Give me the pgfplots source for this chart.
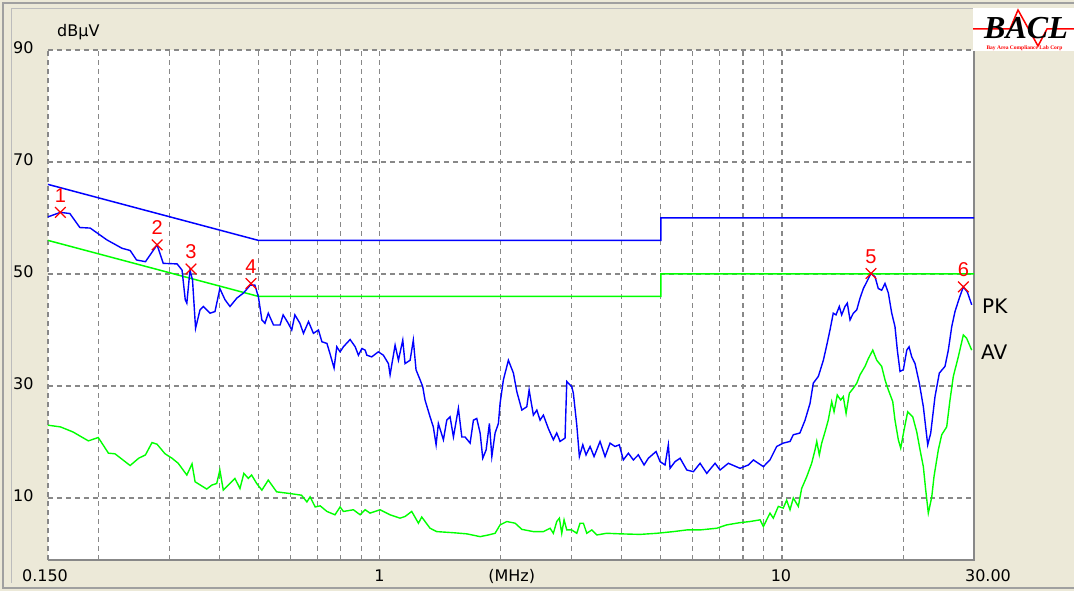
\documentclass[border=0pt]{standalone}
\usepackage{fontspec}
\setmainfont{DejaVu Sans}
\newfontfamily\arialfont{Liberation Sans}
\newfontfamily\timesfont{Liberation Serif}
\usepackage{pgfplots}
\pgfplotsset{compat=1.18}

\definecolor{bgbeige}{HTML}{ECE9D8}
\definecolor{gridgray}{HTML}{888888}
\definecolor{framegray}{HTML}{A0A0A0}
\definecolor{pkblue}{HTML}{0000FF}
\definecolor{avgreen}{HTML}{00FF00}
\definecolor{markred}{HTML}{FF0000}

\begin{document}
\begin{tikzpicture}
% panel background (1 pt = 1 px, axis origin at pixel 48,560)
\fill[bgbeige] (-48pt,-31pt) rectangle (1026pt,560pt);
\draw[framegray, line width=1.5pt] (1026pt,-28pt) -- (-45pt,-28pt) -- (-45pt,557pt) -- (1026pt,557pt);
\draw[framegray!70, line width=1pt] (-36.5pt,-23pt) -- (-36.5pt,551.5pt) -- (925pt,551.5pt);

\begin{axis}[
    at={(0pt,0pt)}, anchor=south west,
    scale only axis, width=926pt, height=510pt,
    xmode=log, xmin=0.15, xmax=30, ymin=-1.07, ymax=90,
    xtick={1,10}, xticklabels={},
    minor xtick={0.2,0.3,0.4,0.5,0.6,0.7,0.8,0.9,2,3,4,5,6,7,8,9,20},
    ytick={10,30,50,70,90}, yticklabels={10,30,50,70,90},
    major tick length=0pt, minor tick length=0pt,
    xmajorgrids, xminorgrids, ymajorgrids,
    grid style={gridgray, line width=1.2pt, dash pattern=on 5pt off 4pt},
    minor grid style={gridgray, line width=1.2pt, dash pattern=on 5pt off 4pt},
    axis line style={draw=none},
    axis background/.style={fill=white},
    yticklabel style={font=\fontsize{16}{19}\selectfont, anchor=west, xshift=-35pt, yshift=2.5pt, inner sep=0pt},
    clip=false,
]
% left edge (dashed like the grid), bottom and right edge solid
\draw[gridgray, line width=1.2pt, dash pattern=on 5pt off 4pt] (axis cs:0.15,-1.07) -- (axis cs:0.15,90);
\draw[gridgray, line width=2.5pt] (axis cs:0.15,-1.07) -- (axis cs:30,-1.07) -- (axis cs:30,90);

% limit lines
\addplot[pkblue, line width=1.5pt] coordinates {(0.15,66) (0.5,56) (5,56) (5,60) (30,60)};
\addplot[avgreen, line width=1.5pt] coordinates {(0.15,56) (0.5,46) (5,46) (5,50) (30,50)};

% average trace
\addplot[avgreen, line width=1.4pt] coordinates {
(0.150,23.0)(0.161,22.7)(0.173,21.8)(0.189,20.2)(0.200,20.8)(0.212,18.0)(0.220,17.9)(0.240,15.8)
(0.252,17.1)(0.262,17.7)(0.272,19.9)(0.280,19.6)(0.293,17.9)(0.305,17.1)(0.316,16.2)(0.332,14.1)
(0.342,16.1)(0.348,12.9)(0.372,11.6)(0.383,12.3)(0.394,12.6)(0.401,15.0)(0.409,11.4)(0.437,13.5)
(0.450,11.7)(0.460,14.4)(0.472,13.5)(0.481,14.1)(0.495,12.6)(0.510,11.4)(0.529,13.2)(0.555,11.1)
(0.599,10.8)(0.640,10.5)(0.660,9.3)(0.672,10.2)(0.692,8.4)(0.712,8.6)(0.740,7.6)(0.775,7.0)
(0.798,8.4)(0.813,7.6)(0.861,7.9)(0.895,7.0)(0.921,7.9)(0.947,7.3)(1.003,7.9)(1.062,7.0)
(1.124,6.4)(1.157,6.7)(1.202,7.6)(1.249,5.5)(1.273,6.6)(1.335,4.6)(1.387,4.0)(1.526,3.8)
(1.647,3.6)(1.778,3.1)(1.864,3.4)(1.937,3.7)(1.993,5.2)(2.071,5.8)(2.172,5.5)(2.257,4.4)
(2.411,4.0)(2.553,4.0)(2.653,4.6)(2.703,3.7)(2.756,5.8)(2.798,6.4)(2.836,3.7)(2.874,6.1)
(2.919,4.3)(3.003,4.3)(3.091,3.7)(3.149,5.5)(3.210,5.5)(3.273,3.7)(3.368,4.3)(3.465,3.4)
(3.669,3.7)(3.959,3.6)(4.439,3.5)(4.884,3.7)(5.373,4.0)(5.801,4.3)(6.259,4.3)(6.885,4.6)
(7.290,5.2)(7.868,5.6)(8.332,5.8)(8.822,6.1)(8.990,4.9)(9.246,6.7)(9.336,7.3)(9.514,6.4)
(9.791,8.5)(10.07,8.2)(10.27,9.6)(10.47,7.9)(10.67,10.0)(10.98,8.5)(11.19,11.7)(11.52,13.8)
(11.85,16.2)(12.08,18.6)(12.20,20.1)(12.38,17.7)(12.55,19.8)(12.79,21.8)(13.03,23.9)(13.29,27.2)
(13.47,25.4)(13.72,28.4)(13.99,27.5)(14.20,28.1)(14.43,25.1)(14.70,28.7)(15.04,29.6)(15.34,30.5)
(15.63,32.0)(16.08,33.5)(16.39,34.9)(16.81,36.4)(17.20,34.6)(17.69,33.5)(18.03,31.1)(18.38,29.3)
(18.85,27.2)(19.09,23.9)(19.46,20.4)(19.73,18.9)(20.10,22.1)(20.53,25.4)(21.13,24.5)(21.62,21.8)
(22.03,18.6)(22.45,15.6)(22.76,11.4)(23.10,7.3)(23.56,10.2)(23.86,13.8)(24.46,18.6)(24.94,21.3)
(25.66,22.7)(26.15,27.5)(26.65,31.7)(27.42,35.2)(28.22,39.1)(28.77,38.5)(29.61,36.4)
};

% peak trace
\addplot[pkblue, line width=1.4pt] coordinates {
(0.150,60.2)(0.161,61.0)(0.170,60.8)(0.180,58.3)(0.191,58.2)(0.210,56.1)(0.229,54.6)(0.240,54.2)
(0.249,52.5)(0.262,52.2)(0.280,55.2)(0.290,51.9)(0.314,51.8)(0.323,50.7)(0.329,45.4)(0.332,44.8)
(0.338,50.7)(0.343,48.9)(0.349,40.3)(0.358,43.6)(0.365,44.2)(0.379,43.0)(0.390,43.3)(0.401,47.4)
(0.413,45.4)(0.425,44.2)(0.442,45.7)(0.459,46.6)(0.477,48.0)(0.490,48.0)(0.500,45.9)(0.510,41.8)
(0.519,41.2)(0.529,43.0)(0.545,40.9)(0.566,40.9)(0.576,42.7)(0.593,41.2)(0.605,40.0)(0.616,42.7)
(0.634,41.2)(0.647,39.4)(0.666,41.5)(0.685,39.4)(0.705,40.0)(0.719,37.9)(0.740,37.6)(0.753,35.8)
(0.771,33.2)(0.783,37.0)(0.798,36.1)(0.813,37.0)(0.845,38.3)(0.870,37.0)(0.886,35.5)(0.904,36.7)
(0.921,36.4)(0.930,35.5)(0.956,35.2)(0.993,36.1)(1.022,35.5)(1.052,34.0)(1.062,32.0)(1.093,37.3)
(1.114,34.6)(1.142,38.2)(1.157,34.0)(1.191,34.6)(1.213,38.2)(1.232,32.9)(1.261,31.1)(1.280,29.9)
(1.297,27.5)(1.335,24.5)(1.360,22.7)(1.382,19.5)(1.400,23.3)(1.441,20.4)(1.469,23.9)(1.497,24.5)
(1.526,20.9)(1.570,26.0)(1.601,20.9)(1.631,20.9)(1.679,19.8)(1.711,23.9)(1.744,24.2)(1.778,21.6)
(1.805,17.1)(1.840,18.6)(1.875,23.3)(1.901,17.4)(1.937,21.6)(1.974,23.3)(1.993,26.9)(2.031,31.1)
(2.090,34.6)(2.151,32.3)(2.193,29.0)(2.257,25.7)(2.322,26.3)(2.353,29.3)(2.411,24.8)(2.459,25.7)
(2.505,23.9)(2.553,24.8)(2.627,22.4)(2.703,20.4)(2.756,21.6)(2.809,20.1)(2.890,20.7)(2.919,30.8)
(3.003,29.9)(3.031,28.7)(3.091,23.0)(3.137,17.4)(3.199,19.5)(3.259,17.7)(3.335,19.2)(3.412,17.4)
(3.531,20.1)(3.634,17.4)(3.739,19.8)(3.847,19.2)(3.943,19.5)(4.034,16.8)(4.152,18.0)(4.272,16.8)
(4.396,17.7)(4.542,15.9)(4.655,17.1)(4.864,18.3)(4.977,16.5)(5.121,15.9)(5.219,19.5)(5.270,15.3)
(5.425,16.5)(5.583,17.1)(5.801,15.0)(6.024,14.7)(6.259,16.2)(6.502,14.4)(6.818,16.2)(7.016,15.0)
(7.357,16.2)(7.868,15.3)(8.251,15.9)(8.490,16.8)(8.736,16.2)(8.990,15.6)(9.336,16.8)(9.701,19.2)
(10.07,19.8)(10.47,20.1)(10.67,21.3)(11.08,21.6)(11.41,23.9)(11.74,26.9)(11.96,30.5)(12.31,31.7)
(12.67,34.6)(12.92,37.3)(13.16,40.0)(13.41,43.0)(13.62,42.7)(13.88,44.2)(14.07,42.7)(14.34,44.2)
(14.53,44.8)(14.76,41.8)(15.04,43.0)(15.34,43.6)(15.63,45.7)(15.93,47.4)(16.24,48.6)(16.64,50.1)
(17.03,49.5)(17.35,47.4)(17.69,47.1)(18.03,48.3)(18.38,46.6)(18.74,43.0)(19.09,40.6)(19.35,36.4)
(19.65,32.6)(20.02,32.9)(20.42,36.4)(20.69,37.0)(21.01,35.2)(21.41,34.0)(21.94,30.5)(22.45,26.3)
(23.02,19.5)(23.42,21.6)(24.00,28.1)(24.60,32.3)(25.41,33.5)(25.90,36.4)(26.41,40.6)(26.91,43.3)
(27.58,45.7)(28.22,47.7)(28.87,46.8)(29.61,44.5)
};

% marked peaks
\addplot[only marks, mark=x, markred, mark size=7.5pt, mark options={line width=1.2pt, draw=markred},
    point meta=explicit symbolic, nodes near coords,
    every node near coord/.append style={font=\arialfont\fontsize{20}{22}\selectfont, text=markred, anchor=base, yshift=10pt, inner sep=0pt}]
  coordinates {(0.161,61.0)[1] (0.280,55.2)[2] (0.340,50.9)[3] (0.479,48.3)[4] (16.64,50.1)[5] (28.22,47.7)[6]};

% axis texts
\node[anchor=base west, font=\fontsize{16}{19}\selectfont, inner sep=0pt] at (axis cs:0.15,90) [xshift=9pt, yshift=13pt] {dBμV};
\node[anchor=base, font=\fontsize{16}{19}\selectfont, inner sep=0pt] at (axis cs:0.15,-1.07) [xshift=-3pt, yshift=-22pt] {0.150};
\node[anchor=base, font=\fontsize{16}{19}\selectfont, inner sep=0pt] at (axis cs:1,-1.07) [yshift=-22pt] {1};
\node[anchor=base, font=\fontsize{16}{19}\selectfont, inner sep=0pt] at (axis cs:2.13,-1.07) [yshift=-22pt] {(MHz)};
\node[anchor=base, font=\fontsize{16}{19}\selectfont, inner sep=0pt] at (axis cs:10,-1.07) [xshift=-1pt, yshift=-22pt] {10};
\node[anchor=base, font=\fontsize{16}{19}\selectfont, inner sep=0pt] at (axis cs:30,-1.07) [xshift=14pt, yshift=-22pt] {30.00};
\node[anchor=base west, font=\fontsize{20}{22}\selectfont, inner sep=0pt] at (axis cs:30,42.86) [xshift=8pt] {PK};
\node[anchor=base west, font=\fontsize{20}{22}\selectfont, inner sep=0pt] at (axis cs:30,34.82) [xshift=7pt] {AV};
\end{axis}

% BACL logo
\fill[white] (925pt,509pt) rectangle (1026pt,552pt);
\draw[markred, line width=1.5pt] (925pt,531pt) -- (962pt,531pt) -- (970pt,550pt) -- (990pt,514pt) -- (999pt,531pt) -- (1026pt,531pt);
\node[anchor=base, inner sep=0pt, font=\timesfont\bfseries\itshape\fontsize{32}{34}\selectfont] at (978pt,521pt) {\smash{BACL}};
\node[inner sep=0pt, text=markred, font=\timesfont\bfseries\fontsize{5.5}{6}\selectfont] at (976.5pt,512pt) {Bay Area Compliance Lab Corp};

\pgfresetboundingbox
\useasboundingbox (-48pt,-31pt) rectangle (1026pt,560pt);
\end{tikzpicture}
\end{document}
